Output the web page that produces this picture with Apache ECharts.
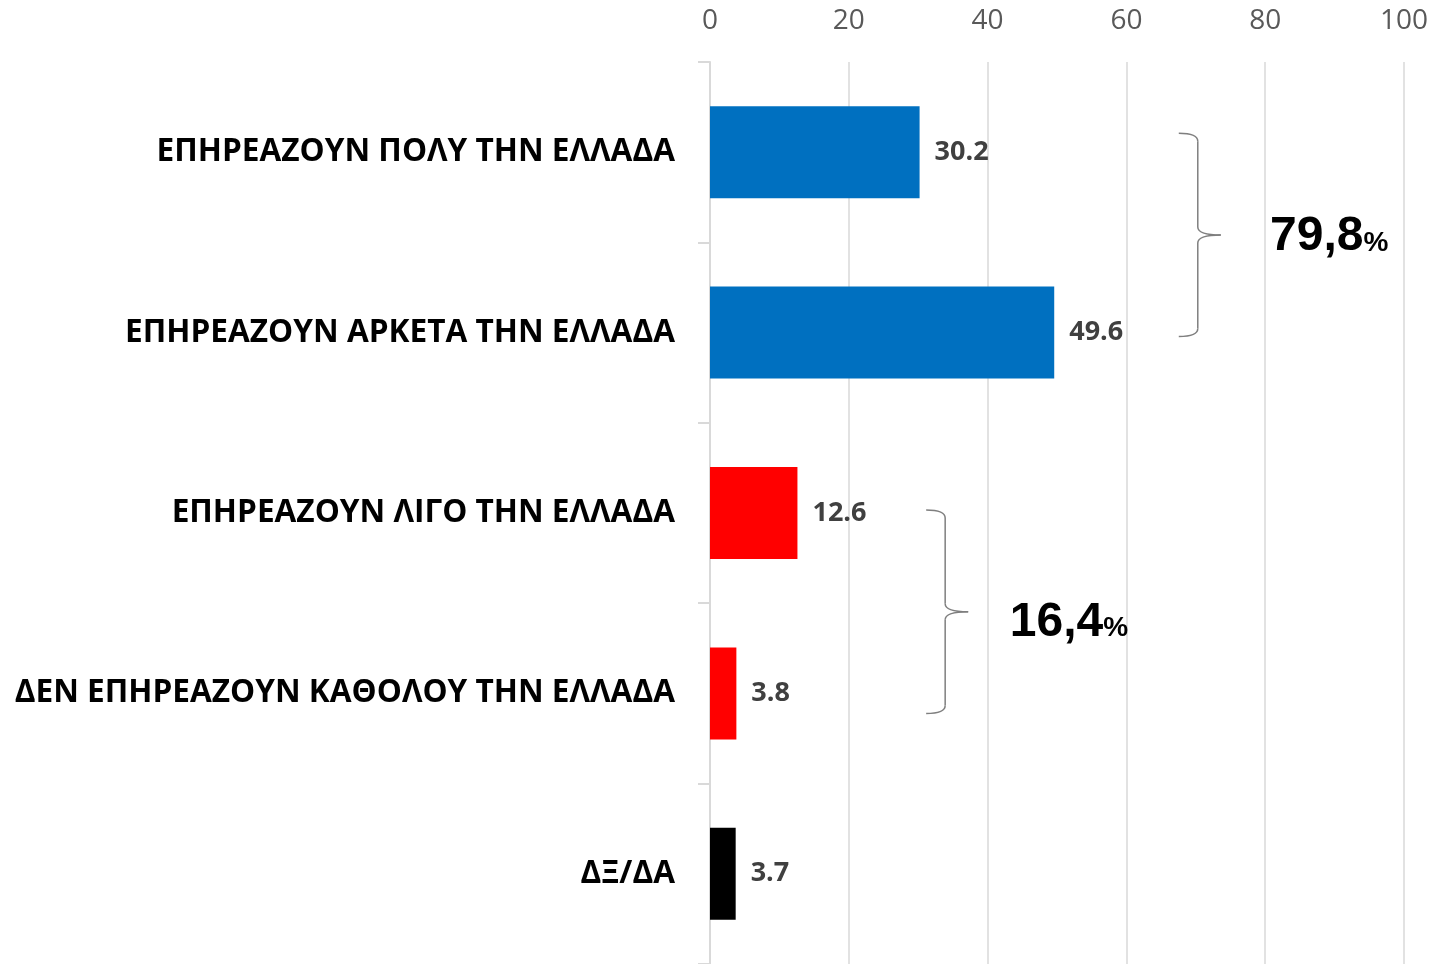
<!DOCTYPE html>
<html>
<head>
<meta charset="utf-8">
<script src="https://cdn.jsdelivr.net/npm/echarts@6/dist/echarts.min.js"></script>
<style>
  html, body { margin: 0; padding: 0; background: #fff; }
  #chart { width: 1434px; height: 964px; }
</style>
</head>
<body>
<div id="chart"></div>
<script>
var categories = [
    'ΕΠΗΡΕΑΖΟΥΝ ΠΟΛΥ ΤΗΝ ΕΛΛΑΔΑ',
    'ΕΠΗΡΕΑΖΟΥΝ ΑΡΚΕΤΑ ΤΗΝ ΕΛΛΑΔΑ',
    'ΕΠΗΡΕΑΖΟΥΝ ΛΙΓΟ ΤΗΝ ΕΛΛΑΔΑ',
    'ΔΕΝ ΕΠΗΡΕΑΖΟΥΝ ΚΑΘΟΛΟΥ ΤΗΝ ΕΛΛΑΔΑ',
    'ΔΞ/ΔΑ'
];
var values = [30.2, 49.6, 12.6, 3.8, 3.7];
var barColors = ['#0070C0', '#0070C0', '#FF0000', '#FF0000', '#000000'];
var xTicks = [0, 20, 40, 60, 80, 100];

// grouped totals shown next to the braces
var groups = [
    { from: 0, to: 1, x: 73.6, num: '79,8', textX: 80.7, top: -19, bot: 4, dy: 2 },
    { from: 2, to: 3, x: 37.2, num: '16,4', textX: 43.2, top: -3, bot: 20, dy: 11 }
];

var myChart = echarts.init(document.getElementById('chart'));

var option = {
    animation: false,
    grid: {
        left: 710,
        right: 30,
        top: 62,
        bottom: 0
    },
    xAxis: {
        type: 'value',
        position: 'top',
        min: xTicks[0],
        max: xTicks[xTicks.length - 1],
        interval: 20,
        axisLine: { show: false },
        axisTick: { show: false },
        axisLabel: {
            color: '#595959',
            fontSize: 28,
            fontFamily: 'Open Sans',
            margin: 27
        },
        splitLine: { lineStyle: { color: '#d9d9d9', width: 1.5 } }
    },
    yAxis: {
        type: 'category',
        inverse: true,
        data: categories,
        axisLine: { show: true, lineStyle: { color: '#d9d9d9', width: 2 } },
        axisTick: { show: true, length: 12, lineStyle: { color: '#d9d9d9', width: 2 } },
        axisLabel: {
            color: '#000',
            fontSize: 31.6,
            fontWeight: 'bold',
            fontFamily: 'Open Sans',
            margin: 35,
            padding: [4, 0, 0, 0]
        }
    },
    series: [{
        type: 'bar',
        barWidth: 92,
        data: values.map(function (v, i) {
            return { value: v, itemStyle: { color: barColors[i] } };
        }),
        label: {
            show: true,
            position: 'right',
            distance: 15,
            color: '#404040',
            fontSize: 27,
            fontWeight: 'bold',
            fontFamily: 'Open Sans',
            padding: [5, 0, 0, 0]
        }
    }]
};
myChart.setOption(option);

// braces and group totals, placed through the chart's own scales
function drawBraces() {
    var elements = [];
    var st = { fill: null, stroke: '#7f7f7f', lineWidth: 1.5 };
    for (var i = 0; i < groups.length; i++) {
        var g = groups[i];
        var yTop = myChart.convertToPixel({ yAxisIndex: 0 }, g.from) + g.top;
        var yBot = myChart.convertToPixel({ yAxisIndex: 0 }, g.to) + g.bot;
        var xTip = myChart.convertToPixel({ xAxisIndex: 0 }, g.x);
        var x0 = xTip - 42, x1 = xTip - 23;
        var ym = (yTop + yBot) / 2;
        elements.push(
            { type: 'bezierCurve', shape: { x1: x0, y1: yTop, x2: x1, y2: yTop + 8, cpx1: x1, cpy1: yTop }, style: st },
            { type: 'line', shape: { x1: x1, y1: yTop + 8, x2: x1, y2: ym - 8 }, style: st },
            { type: 'bezierCurve', shape: { x1: x1, y1: ym - 8, x2: xTip, y2: ym, cpx1: x1, cpy1: ym }, style: st },
            { type: 'bezierCurve', shape: { x1: xTip, y1: ym, x2: x1, y2: ym + 8, cpx1: x1, cpy1: ym }, style: st },
            { type: 'line', shape: { x1: x1, y1: ym + 8, x2: x1, y2: yBot - 8 }, style: st },
            { type: 'bezierCurve', shape: { x1: x1, y1: yBot - 8, x2: x0, y2: yBot, cpx1: x1, cpy1: yBot }, style: st }
        );
        elements.push({
            type: 'text',
            x: myChart.convertToPixel({ xAxisIndex: 0 }, g.textX),
            y: ym + g.dy,
            style: {
                text: '{n|' + g.num + '}{p|%}',
                verticalAlign: 'middle',
                rich: {
                    n: { fontSize: 48, fontWeight: 'bold', fontFamily: 'Liberation Sans', fill: '#000', color: '#000' },
                    p: { fontSize: 28, fontWeight: 'bold', fontFamily: 'Liberation Sans', fill: '#000', color: '#000', padding: [12, 0, 0, 0] }
                }
            }
        });
    }
    myChart.setOption({ graphic: elements });
}
drawBraces();
</script>
</body>
</html>
